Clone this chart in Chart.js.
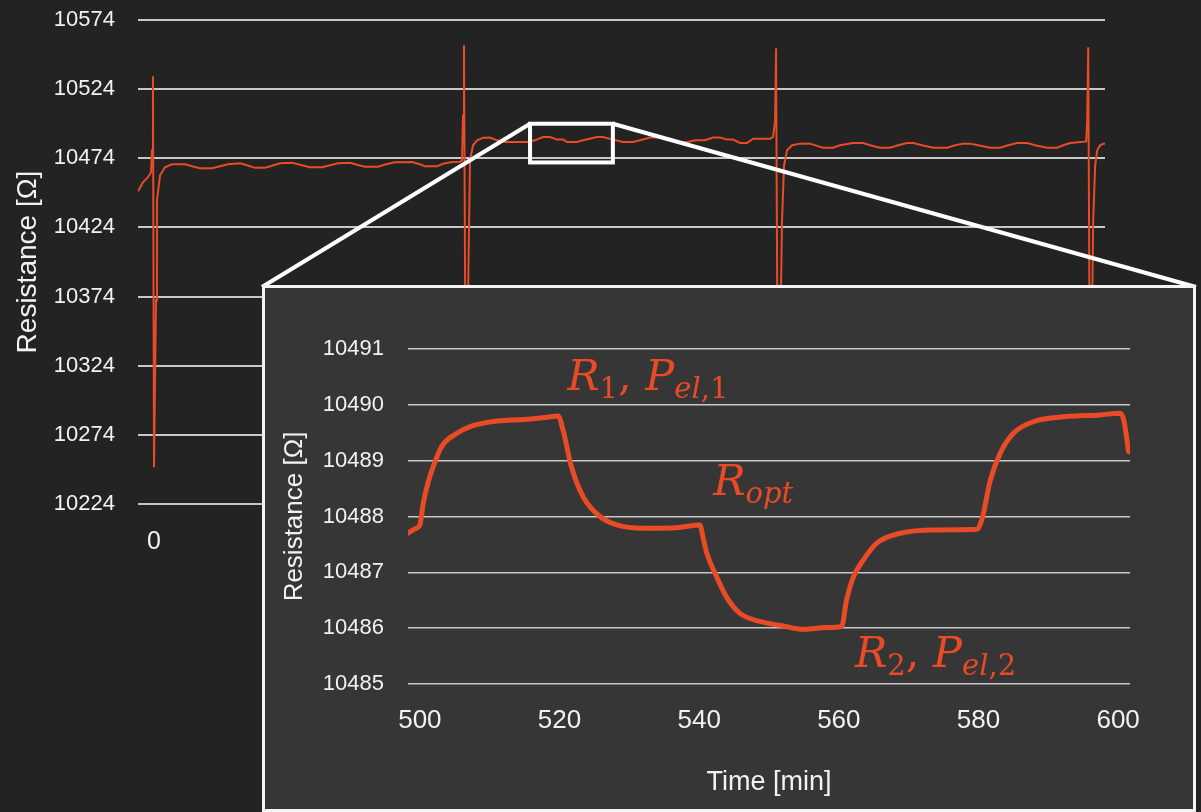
<!DOCTYPE html>
<html>
<head>
<meta charset="utf-8">
<script src="https://cdn.jsdelivr.net/npm/chart.js@4.4.1/dist/chart.umd.min.js"></script>
<style>
  html, body { margin: 0; padding: 0; background: #232323; }
  #wrap { position: relative; width: 1201px; height: 812px; overflow: hidden; }
  #mainChart { position: absolute; left: 0; top: 0; }
  #inset { position: absolute; left: 262px; top: 285px; width: 934px; height: 527px;
           box-sizing: border-box; border: 3px solid #f4f4f4; background: #363636; }
  #insetChart { position: absolute; left: 0; top: 0; }
</style>
</head>
<body>
<div id="wrap">
  <canvas id="mainChart" width="1201" height="812"></canvas>
  <div id="inset"><canvas id="insetChart" width="928" height="521"></canvas></div>
</div>
<script>
// main trace: time [min] and resistance [Ohm]
const mainTime = [
  -23, -15.8, -8.5, -4.2, -2.7, -1.3, 0.2, 3.1, 4.5, 8.9,
  16.1, 26.3, 45.1, 55.3, 66.8, 84.3, 95.8, 107.4, 124.8, 134.9,
  146.5, 161.0, 171.2, 182.7, 200.1, 211.7, 226.2, 243.6, 255.2, 266.8,
  284.2, 294.3, 305.9, 324.7, 336.3, 349.4, 374.0, 385.6, 392.8, 410.2,
  418.9, 431.9, 443.5, 446.4, 447.9, 449.3, 452.2, 455.1, 458.0, 462.4,
  468.2, 476.9, 487.0, 497.2, 508.8, 540.6, 552.2, 563.8, 573.9, 584.1,
  592.8, 598.6, 613.1, 621.8, 642.1, 650.8, 665.3, 679.8, 694.3, 704.4,
  718.9, 733.4, 745.0, 759.4, 773.9, 784.1, 798.6, 810.2, 820.3, 830.4,
  839.1, 849.3, 859.4, 868.1, 892.7, 897.1, 900.0, 901.4, 904.3, 910.1,
  913.0, 917.4, 924.6, 936.2, 950.7, 960.9, 969.6, 984.1, 994.2, 1013.1,
  1027.6, 1037.7, 1052.2, 1066.7, 1078.3, 1091.3, 1100.0, 1113.1, 1129.0, 1149.3,
  1160.9, 1172.5, 1182.6, 1194.2, 1211.6, 1226.1, 1237.7, 1250.7, 1265.2, 1276.8,
  1294.2, 1308.7, 1317.4, 1327.6, 1346.4, 1350.8, 1352.2, 1353.7, 1356.6, 1360.9,
  1363.8, 1366.7, 1371.0, 1375.4, 1378.0
];
const mainRes = [
  10450.1, 10456.6, 10460.3, 10463.9, 10479.8, 10533.3, 10250.6, 10371.3, 10443.6, 10461.7,
  10467.5, 10469.7, 10469.7, 10468.2, 10466.8, 10466.8, 10468.2, 10469.7, 10470.4, 10469.0,
  10467.1, 10467.1, 10468.6, 10470.4, 10470.7, 10469.3, 10467.5, 10467.5, 10468.9, 10470.4,
  10470.7, 10469.3, 10467.9, 10467.9, 10469.7, 10471.1, 10471.3, 10469.7, 10468.2, 10468.2,
  10470.0, 10471.3, 10471.4, 10472.6, 10505.1, 10555.7, 10245, 10371.3, 10472.6, 10483.4,
  10487.0, 10488.8, 10489.0, 10487.0, 10485.8, 10485.8, 10487.0, 10489.4, 10489.4, 10487.5,
  10487.5, 10485.8, 10485.8, 10487.0, 10489.4, 10489.4, 10487.5, 10485.8, 10485.8, 10487.0,
  10489.0, 10489.0, 10487.5, 10485.8, 10485.8, 10487.0, 10487.0, 10489.0, 10489.0, 10487.5,
  10487.5, 10485.1, 10485.1, 10488.2, 10488.2, 10489.4, 10501.5, 10553.5, 10245, 10429.2,
  10468.9, 10479.8, 10483.4, 10484.6, 10484.6, 10483.0, 10481.7, 10481.7, 10483.4, 10485.1,
  10485.1, 10483.4, 10481.7, 10481.7, 10483.4, 10485.1, 10485.1, 10483.4, 10481.7, 10481.7,
  10483.4, 10484.6, 10484.6, 10483.4, 10481.7, 10481.7, 10483.4, 10485.1, 10485.1, 10483.4,
  10481.7, 10481.7, 10483.4, 10485.1, 10485.9, 10486.2, 10501.5, 10554.3, 10245, 10429.2,
  10468.9, 10479.8, 10483.4, 10484.6, 10484.6
];
const yTicksMain = [10224, 10274, 10324, 10374, 10424, 10474, 10524, 10574];
const xTicksMain = [0, 200, 400, 600, 800, 1000, 1200];

// zoomed region marked on the main chart
const zoomBoxTime = [545, 665];
const zoomBoxRes = [10471, 10499];

// inset trace 500-600 min
const insetTime = [
  498.3, 499.3, 500.0, 500.5, 501.2, 501.9, 503.1, 505.3, 507.2, 510.5,
  515.3, 519.1, 519.8, 520.5, 521.7, 523.4, 525.8, 528.2, 532.0, 536.8,
  540.1, 540.6, 541.1, 542.5, 543.9, 545.8, 548.7, 552.0, 554.9, 558.3,
  560.4, 561.1, 562.1, 563.5, 565.4, 568.8, 573.5, 579.8, 580.5, 581.7,
  583.1, 585.0, 587.9, 592.6, 597.4, 600.3, 600.8, 601.5
];
const insetRes = [
  10487.70, 10487.78, 10487.85, 10488.25, 10488.62, 10488.89, 10489.25, 10489.49, 10489.61, 10489.70,
  10489.74, 10489.79, 10489.80, 10489.55, 10488.89, 10488.35, 10488.00, 10487.85, 10487.79, 10487.80,
  10487.85, 10487.60, 10487.34, 10486.92, 10486.56, 10486.27, 10486.12, 10486.04, 10485.98, 10486.01,
  10486.03, 10486.50, 10486.92, 10487.22, 10487.52, 10487.70, 10487.76, 10487.77, 10487.95, 10488.65,
  10489.13, 10489.49, 10489.70, 10489.79, 10489.82, 10489.85, 10489.73, 10489.16
];
const yTicksInset = [10485, 10486, 10487, 10488, 10489, 10490, 10491];
const xTicksInset = [500, 520, 540, 560, 580, 600];

// annotation labels: anchor (time, resistance) and text pieces [text, subscript, italic]
const labelTime = [521.1, 542.0, 562.3];
const labelRes = [10490.27, 10488.38, 10485.30];
const labelParts = [
  [['R', 0, 1], ['1', 1, 0], [', ', 0, 0], ['P', 0, 1], ['el', 1, 1], [',1', 1, 0]],
  [['R', 0, 1], ['opt', 1, 1]],
  [['R', 0, 1], ['2', 1, 0], [', ', 0, 0], ['P', 0, 1], ['el', 1, 1], [',2', 1, 0]]
];

const orange = '#e84b25';
const textCol = '#f2f2f2';
const sans = '"Liberation Sans", Arial, sans-serif';

const zoomMarker = {
  id: 'zoomMarker',
  afterDatasetsDraw(chart) {
    const {ctx, scales: {x, y}} = chart;
    const l = x.getPixelForValue(zoomBoxTime[0]);
    const r = x.getPixelForValue(zoomBoxTime[1]);
    const t = y.getPixelForValue(zoomBoxRes[1]);
    const b = y.getPixelForValue(zoomBoxRes[0]);
    const inset = document.getElementById('inset');
    const il = inset.offsetLeft, ir = inset.offsetLeft + inset.offsetWidth, it = inset.offsetTop;
    ctx.save();
    ctx.strokeStyle = '#ffffff';
    ctx.lineWidth = 4;
    ctx.beginPath();
    ctx.moveTo(l, t); ctx.lineTo(il, it + 2);
    ctx.moveTo(r, t); ctx.lineTo(ir, it + 2);
    ctx.stroke();
    ctx.strokeRect(l, t, r - l, b - t);
    ctx.restore();
  }
};

const mathLabels = {
  id: 'mathLabels',
  afterDatasetsDraw(chart) {
    const {ctx, scales: {x, y}} = chart;
    ctx.save();
    ctx.fillStyle = orange;
    ctx.textBaseline = 'alphabetic';
    labelTime.forEach((t, i) => {
      let px = x.getPixelForValue(t);
      const py = y.getPixelForValue(labelRes[i]);
      labelParts[i].forEach(([text, sub, ital]) => {
        ctx.font = (ital ? 'italic ' : '') + (sub ? 29 : 43) + 'px "DejaVu Serif", serif';
        ctx.fillText(text, px, py + (sub ? 8 : 0));
        px += ctx.measureText(text).width;
      });
    });
    ctx.restore();
  }
};

new Chart(document.getElementById('mainChart'), {
  type: 'line',
  data: {
    datasets: [{
      data: mainTime.map((t, i) => ({x: t, y: mainRes[i]})),
      borderColor: orange,
      borderWidth: 2,
      pointRadius: 0,
      tension: 0
    }]
  },
  options: {
    responsive: false,
    animation: false,
    layout: {padding: {left: 0, right: 96, top: 20, bottom: 0}},
    plugins: {legend: {display: false}, tooltip: {enabled: false}},
    scales: {
      x: {
        type: 'linear', min: -23, max: 1378,
        afterBuildTicks: s => { s.ticks = xTicksMain.map(v => ({value: v})); },
        afterFit: s => { s.height = 308; },
        grid: {display: false, drawTicks: false},
        border: {display: false},
        ticks: {color: textCol, font: {family: sans, size: 25}, padding: 23,
                maxRotation: 0, autoSkip: false, callback: v => String(v)}
      },
      y: {
        min: 10224, max: 10574,
        afterBuildTicks: s => { s.ticks = yTicksMain.map(v => ({value: v})); },
        afterFit: s => { s.width = 138; s.paddingTop = 10; s.paddingBottom = 10; },
        grid: {color: '#c8c8c8', lineWidth: 2, drawTicks: false},
        border: {display: false},
        ticks: {color: textCol, font: {family: sans, size: 22}, padding: 23, callback: v => String(v)},
        title: {display: true, text: 'Resistance [Ω]', color: textCol,
                font: {family: sans, size: 28}, padding: {top: 11, bottom: 0}}
      }
    }
  },
  plugins: [zoomMarker]
});

new Chart(document.getElementById('insetChart'), {
  type: 'line',
  data: {
    datasets: [{
      data: insetTime.map((t, i) => ({x: t, y: insetRes[i]})),
      borderColor: orange,
      borderWidth: 5,
      pointRadius: 0,
      cubicInterpolationMode: 'monotone',
      borderJoinStyle: 'round',
      borderCapStyle: 'round'
    }]
  },
  options: {
    responsive: false,
    animation: false,
    layout: {padding: {left: 0, right: 63, top: 61, bottom: 0}},
    plugins: {legend: {display: false}, tooltip: {enabled: false}},
    scales: {
      x: {
        type: 'linear', min: 498.3, max: 601.7,
        afterBuildTicks: s => { s.ticks = xTicksInset.map(v => ({value: v})); },
        afterFit: s => { s.height = 125; },
        grid: {display: false, drawTicks: false},
        border: {display: false},
        ticks: {color: textCol, font: {family: sans, size: 26}, padding: 21,
                maxRotation: 0, autoSkip: false, callback: v => String(v)},
        title: {display: true, text: 'Time [min]', color: textCol,
                font: {family: sans, size: 27}, padding: {top: 0, bottom: 10}}
      },
      y: {
        min: 10485, max: 10491,
        afterBuildTicks: s => { s.ticks = yTicksInset.map(v => ({value: v})); },
        afterFit: s => { s.width = 143; s.paddingTop = 10; s.paddingBottom = 10; },
        grid: {color: '#c8c8c8', lineWidth: 1.5, drawTicks: false},
        border: {display: false},
        ticks: {color: textCol, font: {family: sans, size: 22}, padding: 24, callback: v => String(v)},
        title: {display: true, text: 'Resistance [Ω]', color: textCol,
                font: {family: sans, size: 26}, padding: {top: 14, bottom: 0}}
      }
    }
  },
  plugins: [mathLabels]
});
</script>
</body>
</html>
